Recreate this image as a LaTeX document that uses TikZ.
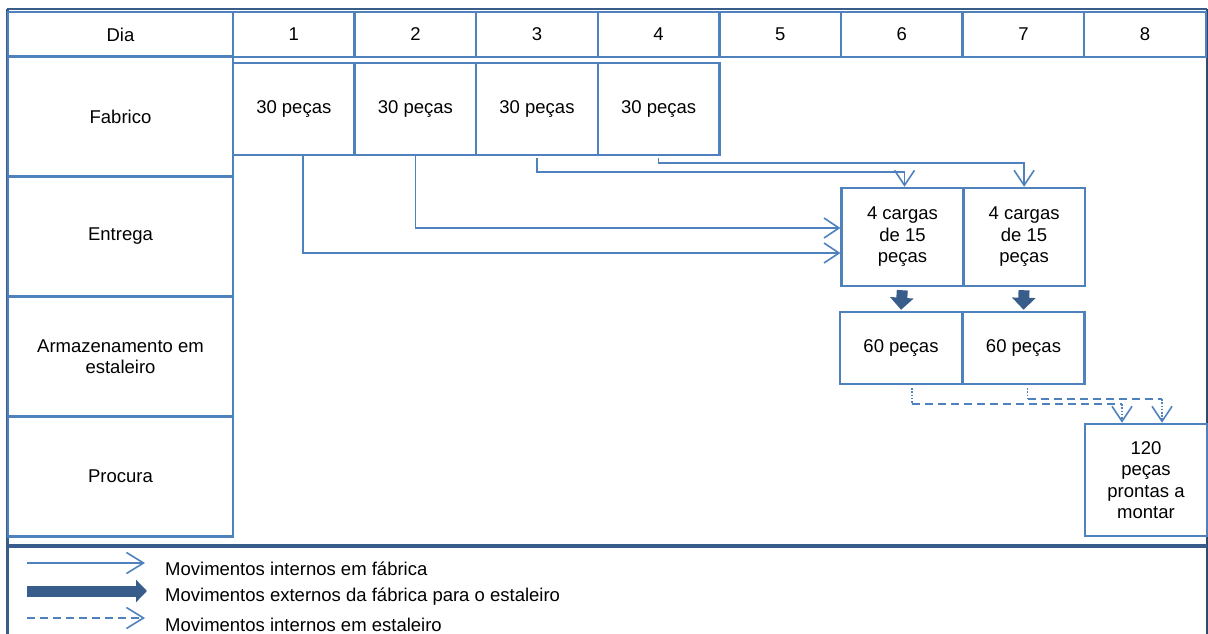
\documentclass[tikz,border=0pt]{standalone}
\usepackage{fontspec}
\setmainfont{Liberation Sans}
\usepackage{tikz}
\usetikzlibrary{calc,arrows.meta,positioning}
\definecolor{cellblue}{HTML}{4F81BD}
\definecolor{darkblue}{HTML}{385D8A}
\tikzstyle{cell} = [draw=cellblue, line width=2.5pt, inner sep=0pt, align=center, fill=white]
\tikzstyle{intarrow} = [draw=cellblue, line width=1.6pt, -{Straight Barb[length=15pt,width=20pt]}]
\tikzstyle{extarrow} = [draw=darkblue, line width=11pt, -{Triangle[length=12pt,width=23pt]}]
\tikzstyle{yarddash} = [draw=cellblue, line width=1.6pt, dash pattern=on 8pt off 5pt]
\tikzstyle{yarddot} = [draw=cellblue, line width=1.6pt, dash pattern=on 1.6pt off 1.6pt]
\tikzstyle{legtext} = [anchor=west, inner sep=0pt]

\begin{document}
\begin{tikzpicture}[x=1pt, y=-1pt, font=\fontsize{18.5}{21.5}\selectfont]

    \useasboundingbox (0,0) rectangle (1208,634);

    % outer frame
    \draw[darkblue, line width=3pt] (7,9) -- (7,634);
    \draw[darkblue, line width=2pt] (7,9) -- (1207,9);
    \draw[darkblue!80!black, line width=1.2pt] (1207,9) -- (1207,634);

    % header row
    \node[cell, minimum width=225pt, minimum height=45pt] (h0) at (120.5,34.5) {Dia};
    \foreach \d in {1,...,8}
        \node[cell, minimum width=121.6pt, minimum height=45pt] (h\d)
            at ({233+(\d-0.5)*121.6},34.5) {\d};

    % row labels
    \node[cell, minimum width=225pt, minimum height=120pt] (r1) at (120.5,116.5) {Fabrico};
    \node[cell, minimum width=225pt, minimum height=120pt] (r2) at (120.5,236.5) {Entrega};
    \node[cell, minimum width=225pt, minimum height=120pt] (r3) at (120.5,356.5) {Armazenamento em\\estaleiro};
    \node[cell, minimum width=225pt, minimum height=120pt] (r4) at (120.5,476.5) {Procura};

    % fabrico
    \foreach \d in {1,...,4}
        \node[cell, minimum width=121.6pt, minimum height=92pt] (f\d)
            at ({233+(\d-0.5)*121.6},109) {30 peças};

    % entrega
    \node[cell, minimum width=121.6pt, minimum height=98pt] (e6) at (902.5,237) {4 cargas\\de 15\\peças};
    \node[cell, minimum width=121.6pt, minimum height=98pt] (e7) at (1024.1,237) {4 cargas\\de 15\\peças};

    % armazenamento
    \node[cell, minimum width=122pt, minimum height=72pt] (s6) at (901,348) {60 peças};
    \node[cell, minimum width=122pt, minimum height=72pt] (s7) at (1023.5,348) {60 peças};

    % procura
    \node[cell, minimum width=122pt, minimum height=112pt] (p8) at (1146,480) {120\\peças\\prontas a\\montar};

    % movimentos internos em fabrica
    \draw[intarrow] ($(f1.south)+(9,0)$) |- ($(e6.west)+(0,16)$);
    \draw[intarrow] (f2.south) |- ($(e6.west)+(0,-9)$);
    \draw[intarrow] ($(f3.south)+(0,2)$) -- ++(0,14) -| ($(e6.north)+(2,0)$);
    \draw[intarrow] ($(f4.south)+(0,2)$) -- ++(0,5) -| (e7.north);

    % movimentos externos
    \draw[extarrow, shorten <=3pt, shorten >=1pt] (e6.south) -- (s6.north);
    \draw[extarrow, shorten <=3pt, shorten >=1pt] (e7.south) -- (s7.north);

    % movimentos internos em estaleiro
    \coordinate (k6) at ($(s6.south)+(11,19)$);
    \coordinate (k7) at ($(s7.south)+(4,14)$);
    \coordinate (t6) at ($(p8.north)+(-24,0)$);
    \coordinate (t7) at ($(p8.north)+(16,0)$);
    \draw[yarddot] ($(s6.south)+(11,3)$) -- (k6);
    \draw[yarddot] ($(s7.south)+(4,3)$) -- (k7);
    \draw[yarddash] (k6) -- (k6 -| t6);
    \draw[yarddash] (k7) -- (k7 -| t7);
    \draw[yarddot, -{Straight Barb[length=15pt,width=20pt]}] (k6 -| t6) -- (t6);
    \draw[yarddot, -{Straight Barb[length=15pt,width=20pt]}] (k7 -| t7) -- (t7);

    % legend
    \draw[darkblue, line width=4.5pt] (7,546) -- (1207,546);

    \node[legtext] (l1) at (165,569) {Movimentos internos em fábrica};
    \node[legtext] (l2) at (165,597) {Movimentos externos da fábrica para o estaleiro};
    \node[legtext] (l3) at (165,625) {Movimentos internos em estaleiro};

    \coordinate (la1) at (27,563);
    \coordinate (lb1) at (145,563);
    \coordinate (la2) at (27,591);
    \coordinate (lb2) at (147,591);
    \coordinate (la3) at (27,618);
    \coordinate (lb3) at (145,618);

    \draw[intarrow, -{Straight Barb[length=17pt,width=21pt]}] (la1) -- (lb1);
    \draw[extarrow, -{Triangle[length=11pt,width=22pt]}] (la2) -- (lb2);
    \draw[yarddash, -{Straight Barb[length=17pt,width=21pt]}] (la3) -- (lb3);

\end{tikzpicture}
\end{document}
